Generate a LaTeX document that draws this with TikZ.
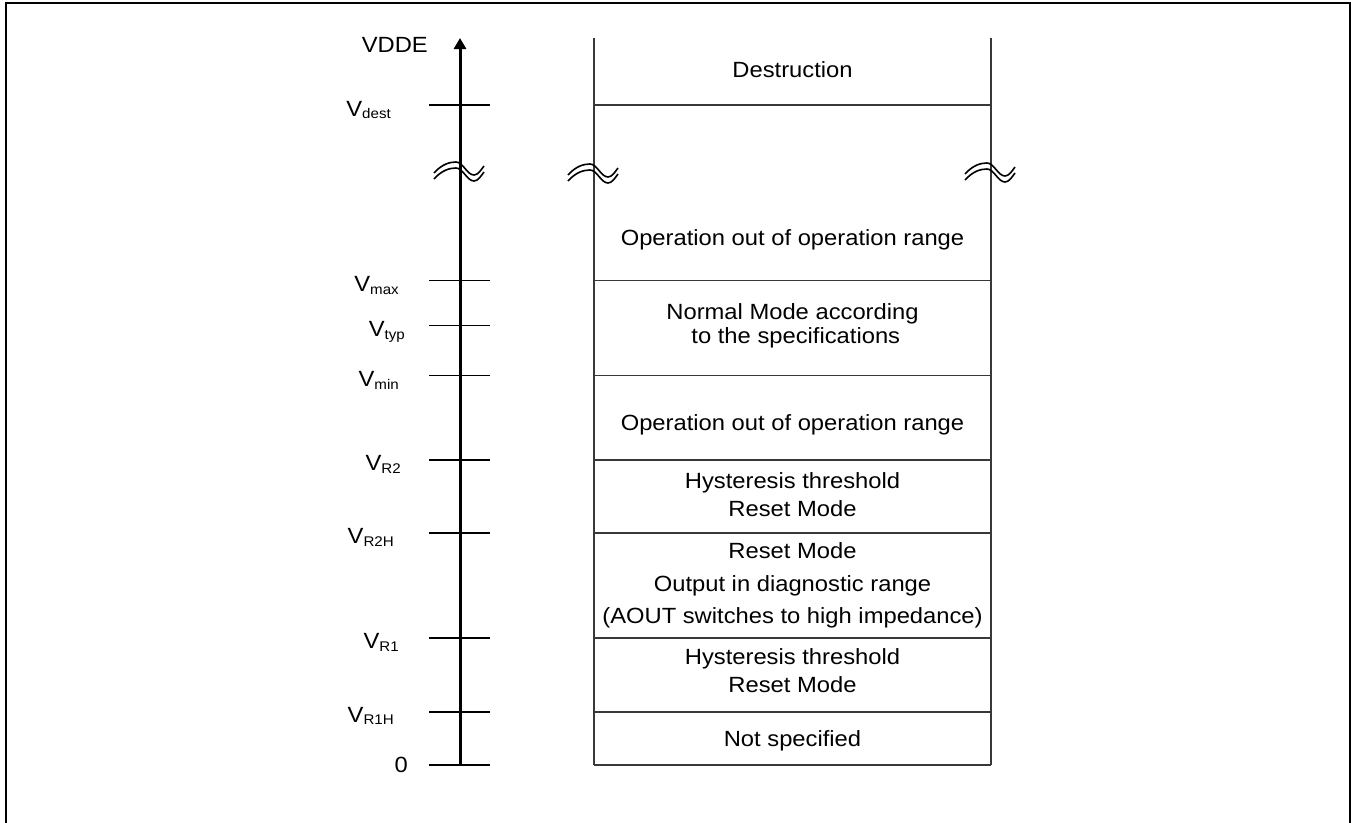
\documentclass[tikz,border=0pt]{standalone}
\usepackage{fontspec}
\setmainfont[FakeStretch=1.08]{Liberation Sans}
\usetikzlibrary{arrows.meta}
\definecolor{boxgray}{gray}{0.22}
\newcommand\vsb[1]{V\raisebox{-2.5pt}{\fontsize{14}{15}\selectfont #1}}
\begin{document}
\begin{tikzpicture}[x=1pt,y=-1pt,
  lab/.style={anchor=base east, inner sep=0pt, font=\fontsize{22}{26}\selectfont},
  txt/.style={align=center, inner sep=0pt, font=\fontsize{22}{27}\selectfont},
  tickline/.style={line width=1.3pt},
  sepline/.style={line width=1.3pt, draw=boxgray},
  brkline/.style={line width=1.6pt},
  brkpic/.pic={
    \draw[brkline] (-26,5) .. controls (-18,-4) and (-10,-6) .. (-4,-6)
      .. controls (3,-6) and (7,7) .. (14,7) .. controls (18,7) and (21,2) .. (24,-2);
    \draw[brkline] (-26,11) .. controls (-18,2) and (-10,0) .. (-4,0)
      .. controls (3,0) and (7,13) .. (14,13) .. controls (18,13) and (21,8) .. (24,4);
  }]
\useasboundingbox (0,0) rectangle (1351,822);
% frame
\draw[line width=2pt] (6,823) -- (6,3.3) -- (1349.5,3.3) -- (1349.5,823);

% axis
\coordinate (ax0) at (460,765);
\coordinate (axtop) at (460,38);
\draw[line width=3pt,-{Triangle[length=11pt,width=12pt]}] (ax0) -- (axtop);
\foreach \y in {105,280.7,325.7,375.7,460,533,638,712,765}
  \draw[tickline] (429,\y) -- (490,\y);

\node[lab] (lvdde) at (428,52) {VDDE};
\node[lab] (ldest) at (391,116) {\vsb{dest}};
\node[lab] (lmax) at (399,291.5) {\vsb{max}};
\node[lab] (ltyp) at (405,336.5) {\vsb{typ}};
\node[lab] (lmin) at (399,386.5) {\vsb{min}};
\node[lab] (lr2) at (401,470.5) {\vsb{R2}};
\node[lab] (lr2h) at (394,543.5) {\vsb{R2H}};
\node[lab] (lr1) at (399,648.5) {\vsb{R1}};
\node[lab] (lr1h) at (394,722) {\vsb{R1H}};
\node[lab] (lzero) at (408,772) {0};

% box
\coordinate (bl) at (594,38);
\coordinate (br) at (991,38);
\draw[sepline] (bl) -- (594,765);
\draw[sepline] (br) -- (991,765);
\foreach \y in {105,280.7,375.7,460,533,638,712,765}
  \draw[sepline] (594,\y) -- (991,\y);

% breaks
\pic at (460,168) {brkpic};
\pic at (594,170) {brkpic};
\pic at (991,169) {brkpic};

% texts
\node[txt, anchor=base] (t1) at (792.5,77.5) {Destruction};
\node[txt, anchor=base] (t2) at (792.5,245) {Operation out of operation range};
\node[txt, font=\fontsize{22}{24}\selectfont] (t3) at (792.5,326) {Normal Mode according\\ \ to the specifications};
\node[txt, font=\fontsize{22}{27.5}\selectfont] (t5) at (792.5,494.5) {Hysteresis threshold\\Reset Mode};
\node[txt, anchor=base] (t4) at (792.5,430) {Operation out of operation range};
\node[txt, font=\fontsize{22}{32.5}\selectfont] (t6) at (792.5,585.5) {Reset Mode\\Output in diagnostic range\\(AOUT switches to high impedance)};
\node[txt, font=\fontsize{22}{27.5}\selectfont] (t7) at (792.5,670.5) {Hysteresis threshold\\Reset Mode};
\node[txt, anchor=base] (t8) at (792.5,746) {Not specified};
\end{tikzpicture}
\end{document}
